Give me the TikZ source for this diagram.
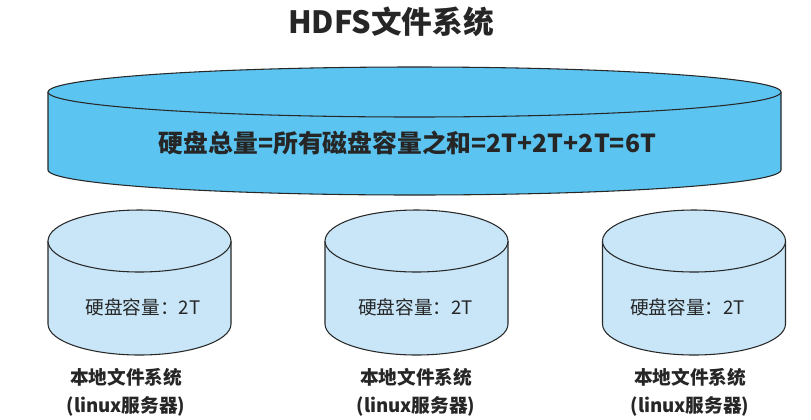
\documentclass[tikz,border=0pt]{standalone}
\usepackage{fontspec}
\setmainfont{Noto Sans CJK SC}
\definecolor{bigblue}{RGB}{91,196,241}
\definecolor{smallblue}{RGB}{200,230,248}
\definecolor{rim}{RGB}{40,40,40}
\tikzset{
  disk/.style={draw=rim, line width=0.8pt},
  titletext/.style={font=\bfseries\fontsize{23}{27}\selectfont, text=black!85},
  sumtext/.style={font=\bfseries\fontsize{18.6}{22}\selectfont, text=black!85},
  captext/.style={font=\fontsize{14}{17}\selectfont, text=black!85},
  hostlabel/.style={font=\bfseries\fontsize{14}{21}\selectfont, align=center, text=black!85}
}
% centre x, top y, bottom y, x radius, y radius, fill
\newcommand{\drum}[6]{%
  \fill[#6] (#1-#4,#2) -- (#1-#4,#3)
    arc[start angle=180, end angle=0, x radius=#4, y radius=#5] -- (#1+#4,#2) -- cycle;
  \draw[disk] (#1-#4,#2) -- (#1-#4,#3)
    arc[start angle=180, end angle=0, x radius=#4, y radius=#5] -- (#1+#4,#2);
  \draw[disk, fill=#6] (#1,#2) ellipse [x radius=#4, y radius=#5];
}
\begin{document}
\begin{tikzpicture}[x=0.75pt, y=-0.75pt]
\useasboundingbox (0,0) rectangle (811,419);
\node[titletext] (title) at (391,22) {HDFS文件系统};
% HDFS as one big disk
\drum{414.5}{92}{170}{366.5}{25}{bigblue}
\node[sumtext] (total) at (407.5,143) {硬盘总量=所有磁盘容量之和=2T+2T+2T=6T};
% local disks
\foreach \cx/\tx/\lx [count=\i] in {139.5/143/126, 416.5/415.5/416, 694/687.5/690}{
  \drum{\cx}{241}{324}{91.5}{31}{smallblue}
  \node[captext] (cap\i) at (\tx,307) {硬盘容量：2T};
  \node[hostlabel] (host\i) at (\lx,392) {本地文件系统\\(linux服务器)};
}
\end{tikzpicture}
\end{document}
